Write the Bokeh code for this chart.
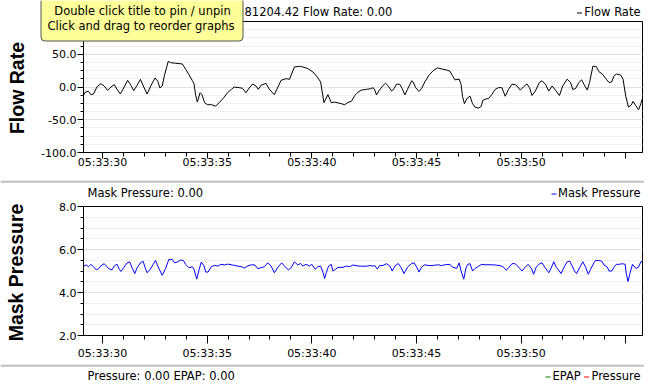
import numpy as np
from bokeh.plotting import figure
from bokeh.layouts import column
from bokeh.models import (Range1d, FixedTicker, PrintfTickFormatter, Label, BoxAnnotation, GridBox)
from bokeh.embed import file_html
from bokeh.resources import INLINE

# ---- data (seconds after 05:33:00) ----
flow_t = [29.09, 29.18, 29.33, 29.44, 29.57, 29.73, 29.92, 30.08, 30.24, 30.40, 30.56, 30.69, 30.85,
          31.01, 31.20, 31.36, 31.49, 31.65, 31.81, 31.97, 32.13, 32.32, 32.51, 32.64, 32.74, 32.85,
          32.96, 33.14, 33.25, 33.49, 33.81, 33.97, 34.13, 34.29, 34.37, 34.45, 34.53, 34.66, 34.75,
          34.88, 35.01, 35.20, 35.41, 35.57, 35.78, 35.97, 36.16, 36.29, 36.53, 36.69, 36.85, 37.01,
          37.17, 37.33, 37.44, 37.57, 37.81, 37.97, 38.21, 38.53, 38.77, 38.93, 39.17, 39.41, 39.57,
          39.81, 40.05, 40.26, 40.42, 40.58, 40.77, 40.93, 41.09, 41.41, 41.57, 41.73, 41.89, 42.05,
          42.21, 42.37, 42.61, 42.81, 42.93, 43.01, 43.09, 43.20, 43.41, 43.52, 43.65, 43.81, 43.93,
          44.04, 44.20, 44.32, 44.45, 44.57, 44.77, 44.84, 44.96, 45.12, 45.24, 45.40, 45.60, 45.80,
          46.00, 46.20, 46.44, 46.60, 46.72, 46.84, 47.04, 47.13, 47.20, 47.29, 47.42, 47.56, 47.68,
          47.80, 47.96, 48.09, 48.17, 48.32, 48.44, 48.60, 48.76, 48.92, 49.08, 49.24, 49.40, 49.56,
          49.72, 49.80, 49.96, 50.12, 50.28, 50.40, 50.52, 50.68, 50.87, 51.00, 51.16, 51.32, 51.48,
          51.64, 51.83, 51.99, 52.20, 52.36, 52.47, 52.60, 52.76, 52.89, 53.00, 53.16, 53.27, 53.43,
          53.59, 53.72, 53.88, 54.07, 54.20, 54.33, 54.44, 54.55, 54.76, 54.87, 55.00, 55.13, 55.26,
          55.35, 55.48, 55.61, 55.72, 55.83]
flow_v = [-12.8, -7.7, -6.6, -11.7, -10.7, 0.0, 5.1, 1.5, -5.1, 0.0, 3.6, -3.6, -10.7,
          -1.5, 10.2, 2.6, -5.6, 2.6, 11.7, 0.0, -10.7, 2.6, 13.8, 8.7, -1.5, 1.5,
          17.9, 39.3, 37.2, 36.2, 35.2, 27.0, 18.9, 9.7, 5.1, -12.8, -23.0, -8.7, -11.7,
          -24.0, -27.0, -27.0, -29.1, -24.0, -16.8, -8.7, -3.6, 0.0, -1.0, -2.0, -8.7, -1.5,
          4.6, 1.5, -3.6, 2.6, 5.6, -3.6, -11.7, 10.2, 12.8, 11.7, 30.6, 31.6, 30.6,
          28.1, 23.0, 15.3, 7.7, -24.0, -11.7, -24.0, -23.0, -25.5, -27.1, -23.4, -21.9, -13.0,
          -7.8, -4.7, -3.6, -2.6, -1.0, -4.7, -12.0, -6.2, 2.6, 5.7, 1.6, -6.2, -2.6,
          4.2, 4.2, -2.6, -12.0, -3.6, 9.4, 7.8, -1.0, -6.8, -2.6, 7.8, 18.2, 25.0,
          29.2, 27.6, 26.0, 24.0, 17.2, 10.9, 12.0, 4.2, -14.1, -25.5, -17.2, -14.1, -25.5,
          -30.7, -32.3, -29.7, -20.3, -18.2, -17.7, -11.5, -3.6, -1.0, -1.0, -14.1, -3.6, 4.2,
          3.6, 1.6, -4.7, 0.5, 4.7, -1.0, -13.0, -6.2, 6.8, 9.4, 4.2, -6.2, 1.6,
          -4.7, -13.0, 1.6, 12.0, 6.8, -3.6, -2.6, 6.8, 10.9, 4.2, -4.7, 6.8, 31.8,
          31.2, 23.4, 19.8, 12.0, 6.8, 7.8, 17.2, 19.8, 18.2, 12.0, -14.1, -30.7, -27.6,
          -21.9, -28.6, -34.9, -25.5, -14.1]

press_t = [29.09, 29.22, 29.33, 29.44, 29.57, 29.70, 29.81, 29.97, 30.08, 30.21, 30.29, 30.45, 30.56,
           30.69, 30.80, 30.88, 31.01, 31.17, 31.30, 31.41, 31.54, 31.65, 31.81, 31.94, 32.05, 32.13,
           32.26, 32.42, 32.53, 32.64, 32.85, 33.01, 33.17, 33.33, 33.44, 33.57, 33.73, 33.86, 33.97,
           34.13, 34.29, 34.37, 34.50, 34.61, 34.72, 34.85, 34.93, 35.04, 35.20, 35.36, 35.52, 35.65,
           35.84, 35.97, 36.21, 36.45, 36.64, 36.77, 36.93, 37.12, 37.28, 37.41, 37.57, 37.73, 37.89,
           38.05, 38.21, 38.40, 38.56, 38.72, 38.88, 39.01, 39.17, 39.33, 39.46, 39.57, 39.73, 39.89,
           40.00, 40.16, 40.29, 40.42, 40.53, 40.61, 40.69, 40.80, 40.93, 41.01, 41.09, 41.25, 41.49,
           41.65, 41.81, 41.97, 42.21, 42.56, 42.77, 42.93, 43.01, 43.13, 43.24, 43.40, 43.57, 43.73,
           43.84, 43.97, 44.13, 44.25, 44.41, 44.57, 44.77, 44.89, 45.01, 45.12, 45.24, 45.40, 45.60,
           45.80, 46.04, 46.20, 46.36, 46.60, 46.72, 46.92, 47.04, 47.13, 47.26, 47.36, 47.45, 47.56,
           47.68, 47.80, 47.96, 48.12, 48.28, 48.52, 48.76, 49.00, 49.16, 49.29, 49.40, 49.56, 49.72,
           49.88, 50.04, 50.17, 50.33, 50.49, 50.60, 50.72, 50.88, 51.00, 51.13, 51.24, 51.32, 51.43,
           51.56, 51.67, 51.80, 51.91, 52.04, 52.20, 52.33, 52.44, 52.55, 52.65, 52.79, 52.95, 53.08,
           53.21, 53.32, 53.48, 53.56, 53.69, 53.85, 53.96, 54.12, 54.20, 54.33, 54.44, 54.55, 54.68,
           54.84, 54.97, 55.03, 55.11, 55.19, 55.32, 55.48, 55.61, 55.72, 55.83]
press_v = [5.23, 5.28, 5.20, 5.31, 5.20, 5.05, 5.11, 5.28, 5.34, 5.20, 5.11, 5.05, 5.23,
           5.32, 5.08, 4.98, 5.15, 5.38, 5.42, 5.15, 4.88, 5.15, 5.38, 5.45, 5.11, 4.92,
           5.05, 5.31, 5.49, 5.23, 4.80, 5.11, 5.54, 5.54, 5.38, 5.42, 5.51, 5.49, 5.31,
           5.15, 5.20, 5.08, 4.62, 5.05, 5.42, 5.23, 4.95, 4.95, 5.20, 5.26, 5.23, 5.31,
           5.28, 5.32, 5.28, 5.23, 5.20, 5.14, 5.23, 5.29, 5.28, 5.11, 5.15, 5.20, 5.38,
           5.23, 4.92, 5.20, 5.38, 5.20, 5.05, 5.15, 5.43, 5.28, 5.35, 5.23, 5.31, 5.23,
           5.31, 5.08, 5.20, 5.23, 4.95, 4.65, 4.92, 5.23, 5.31, 5.00, 5.05, 5.17, 5.17,
           5.23, 5.20, 5.28, 5.23, 5.22, 5.25, 5.23, 5.25, 5.09, 5.25, 5.26, 5.34, 5.23,
           5.00, 5.23, 5.35, 5.18, 4.88, 5.18, 5.35, 5.38, 5.18, 4.95, 5.18, 5.29, 5.25,
           5.26, 5.29, 5.25, 5.29, 5.31, 5.18, 5.12, 5.38, 5.00, 4.62, 5.12, 5.31, 5.34,
           5.00, 5.12, 5.22, 5.31, 5.29, 5.29, 5.28, 5.25, 5.18, 5.03, 5.15, 5.34, 5.34,
           5.18, 5.00, 5.15, 5.31, 5.12, 4.85, 5.18, 5.34, 5.38, 5.18, 5.03, 4.92, 5.12,
           5.43, 5.18, 5.03, 4.88, 5.15, 5.43, 5.46, 5.23, 5.00, 4.88, 5.15, 5.43, 5.18,
           4.85, 5.08, 5.38, 5.49, 5.49, 5.46, 5.28, 5.18, 5.00, 5.00, 5.18, 5.31, 5.31,
           5.34, 5.31, 4.85, 4.51, 4.85, 5.31, 5.12, 5.18, 5.43, 5.49]

time_ticks = [30, 35, 40, 45, 50, 55]
time_labels = ["05:33:30", "05:33:35", "05:33:40", "05:33:45", "05:33:50", ""]
flow_ticks = [-100, -50, 0, 50, 100]
press_ticks = [2, 4, 6, 8]
x_start, x_end = 29.09, 55.8

FONT = "DejaVu Sans"
BIG = "Liberation Sans"
SMALL = "11.5px"
W = 644
H = 384


def style(p, yticks, yminor):
    p.outline_line_color = "black"
    p.outline_line_width = 1
    p.background_fill_color = "white"
    p.border_fill_color = "white"
    p.xgrid.visible = False
    p.ygrid.grid_line_color = "#e0e0e0"
    p.ygrid.minor_grid_line_color = "#f1f1f1"
    p.xaxis.ticker = FixedTicker(ticks=time_ticks, minor_ticks=list(np.arange(29, 56, 1.0)))
    p.xaxis.major_label_overrides = dict(zip(time_ticks, time_labels))
    p.yaxis.ticker = FixedTicker(ticks=yticks, minor_ticks=yminor)
    p.yaxis.formatter = PrintfTickFormatter(format="%.1f")
    for ax in (p.xaxis[0], p.yaxis[0]):
        ax.axis_line_color = "black"
        ax.major_tick_line_color = "black"
        ax.minor_tick_line_color = "black"
        ax.major_tick_in = 0
        ax.minor_tick_in = 0
        ax.major_label_text_font = FONT
        ax.major_label_text_font_size = "11px"
        ax.major_label_text_color = "black"
    p.xaxis.minor_tick_out = 4
    p.yaxis.major_tick_out = 6
    p.yaxis.minor_tick_out = 3
    p.yaxis.major_label_standoff = 1


# ---- Flow Rate panel ----
p1 = figure(width=W, height=181, x_range=Range1d(x_start, x_end), y_range=Range1d(-100, 100),
            output_backend="svg", toolbar_location=None,
            min_border_left=83, min_border_right=2, min_border_top=21, min_border_bottom=29)
p1.line(flow_t, flow_v, line_color="black", line_width=1)
style(p1, flow_ticks, list(np.arange(-100, 100.1, 12.5)))
p1.xaxis.major_tick_out = 6
p1.xaxis.major_label_standoff = -3

# ---- Mask Pressure panel ----
p2 = figure(width=W, height=H - 181, x_range=Range1d(x_start, x_end), y_range=Range1d(2, 8),
            output_backend="svg", toolbar_location=None,
            min_border_left=83, min_border_right=2, min_border_top=25, min_border_bottom=49)
p2.line(press_t, press_v, line_color="blue", line_width=1)
style(p2, press_ticks, list(np.arange(2, 8.01, 0.5)))
p2.xaxis.major_tick_out = 8
p2.xaxis.major_label_standoff = 3

main = column(p1, p2)

# ---- overlay with titles, legends, separators and the tooltip ----
ov = figure(width=W, height=H, x_range=Range1d(0, W), y_range=Range1d(H, 0),
            output_backend="svg", toolbar_location=None, x_axis_location=None,
            y_axis_location=None, min_border=0, outline_line_color=None)
ov.background_fill_alpha = 0
ov.border_fill_alpha = 0
ov.grid.visible = False


def text(x, y, s, align="left", color="black", font=FONT, size=SMALL, bold=False,
         angle=0, baseline="middle"):
    ov.add_layout(Label(x=x, y=y, x_units="canvas", y_units="canvas", text=s, text_align=align,
                        text_baseline=baseline, text_color=color, text_font=font,
                        text_font_size=size, text_font_style="bold" if bold else "normal",
                        angle=angle))


def box(l, r, t, b, fill, line=None, radius=0):
    ov.add_layout(BoxAnnotation(left=l, right=r, top=t, bottom=b, left_units="canvas",
                                right_units="canvas", top_units="canvas", bottom_units="canvas",
                                fill_color=fill, fill_alpha=1, line_color=line,
                                line_alpha=1 if line else 0, line_width=1, border_radius=radius))


def separator(y):
    box(0, W, y, y + 1, "#d4d4d4")
    box(0, W, y + 1, y + 2, "#a0a0a0")


# header of Flow Rate graph
text(244, 11, "81204.42 Flow Rate: 0.00")
box(576.5, 581.5, 12, 13, "black")
text(640, 11, "Flow Rate", align="right")
text(16, 87.5, "Flow Rate", align="center", font=BIG, size="19.5px", bold=True,
     angle=np.pi / 2)

# separator + header of Mask Pressure graph
separator(180)
text(87, 192, "Mask Pressure: 0.00")
box(551, 556, 193, 194, "blue")
text(640, 192, "Mask Pressure", align="right")
text(15.5, 272, "Mask Pressure", align="center", font=BIG, size="19.5px", bold=True,
     angle=np.pi / 2)

# separator + header of next graph
separator(364)
text(87, 375.5, "Pressure: 0.00 EPAP: 0.00")
box(545, 550, 376, 377, "green")
text(552, 375.5, "EPAP")
box(583.5, 588.5, 376, 377, "red")
text(640, 375.5, "Pressure", align="right")

# tooltip
box(40.5, 242.5, -3, 40.5, "#ffff99", line="#555555", radius=4)
text(142, 10.5, "Double click title to pin / unpin", align="center")
text(140.5, 25.5, "Click and drag to reorder graphs", align="center")

layout = GridBox(children=[(main, 0, 0), (ov, 0, 0)])
open("out.html", "w").write(file_html(layout, INLINE))
